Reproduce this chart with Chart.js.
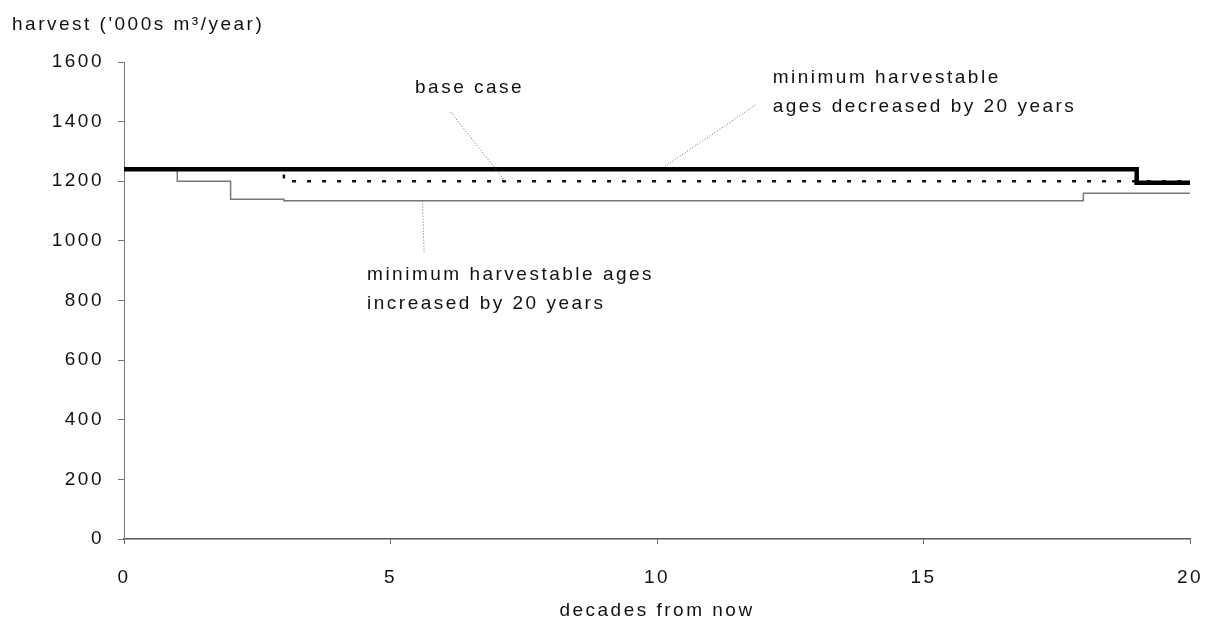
<!DOCTYPE html>
<html>
<head>
<meta charset="utf-8">
<script src="https://cdn.jsdelivr.net/npm/chart.js@4"></script>
<style>
  html, body { margin: 0; padding: 0; background: #fff; }
  #wrap { width: 1210px; height: 633px; }
</style>
</head>
<body>
<div id="wrap"><canvas id="harvestChart" width="1210" height="633"></canvas></div>
<script>
// decades from now; each value holds from that decade to the next one
const decades = [0, 1, 2, 3, 4, 5, 6, 7, 8, 9, 10, 11, 12, 13, 14, 15, 16, 17, 18, 19, 20];
const baseCase = [1240, 1240, 1240, 1240, 1240, 1240, 1240, 1240, 1240, 1240, 1240, 1240, 1240, 1240, 1240, 1240, 1240, 1240, 1240, 1195, 1195];
const agesDecreased = [1240, 1240, 1240, 1200, 1200, 1200, 1200, 1200, 1200, 1200, 1200, 1200, 1200, 1200, 1200, 1200, 1200, 1200, 1200, 1200, 1200];
const agesIncreased = [1240, 1200, 1140, 1135, 1135, 1135, 1135, 1135, 1135, 1135, 1135, 1135, 1135, 1135, 1135, 1135, 1135, 1135, 1160, 1160, 1160];
const xTicks = [0, 5, 10, 15, 20];
const yTicks = [0, 200, 400, 600, 800, 1000, 1200, 1400, 1600];

// callouts: text lines, text anchor (decade, harvest), leader from -> to
const callouts = [
  { lines: ["base case"], at: [5.46, 1513], from: [6.13, 1432], to: [7.15, 1200] },
  { lines: ["minimum harvestable", "ages decreased by 20 years"], at: [12.17, 1548], from: [11.84, 1455], to: [10.15, 1250] },
  { lines: ["minimum harvestable ages", "increased by 20 years"], at: [4.56, 886], from: [5.6, 1135], to: [5.63, 960] }
];

const FONT = "Liberation Sans, Arial, sans-serif";
const SPACING = "2.5px";

function pts(values) {
  return decades.map((d, i) => ({ x: d, y: values[i] }));
}

const spacing = {
  id: "spacing",
  beforeLayout(chart) { chart.ctx.letterSpacing = SPACING; },
  beforeDraw(chart) { chart.ctx.letterSpacing = SPACING; }
};

const annotate = {
  id: "annotate",
  afterDatasetsDraw(chart) {
    const { ctx, scales: { x, y } } = chart;
    ctx.save();
    ctx.letterSpacing = SPACING;
    ctx.fillStyle = "#111";
    ctx.font = "19px " + FONT;
    ctx.textBaseline = "middle";
    ctx.textAlign = "left";
    ctx.fillText("harvest ('000s m\u00b3/year)", 12, 25);

    callouts.forEach(c => {
      ctx.strokeStyle = "#666";
      ctx.lineWidth = 1;
      ctx.setLineDash([1, 2]);
      ctx.beginPath();
      ctx.moveTo(x.getPixelForValue(c.from[0]), y.getPixelForValue(c.from[1]));
      ctx.lineTo(x.getPixelForValue(c.to[0]), y.getPixelForValue(c.to[1]));
      ctx.stroke();
      ctx.setLineDash([]);
      const tx = x.getPixelForValue(c.at[0]);
      const ty = y.getPixelForValue(c.at[1]);
      c.lines.forEach((t, i) => ctx.fillText(t, tx, ty + i * 29));
    });
    ctx.restore();
  }
};

new Chart(document.getElementById("harvestChart"), {
  type: "line",
  data: {
    datasets: [
      {
        label: "base case",
        data: pts(baseCase),
        stepped: "before",
        borderColor: "#000",
        borderWidth: 4.5,
        pointRadius: 0,
        order: 0
      },
      {
        label: "minimum harvestable ages decreased by 20 years",
        data: pts(agesDecreased),
        stepped: "before",
        borderColor: "#111",
        borderWidth: 2.5,
        borderDash: [4, 11],
        pointRadius: 0,
        order: 1
      },
      {
        label: "minimum harvestable ages increased by 20 years",
        data: pts(agesIncreased),
        stepped: "before",
        borderColor: "#777",
        borderWidth: 1.5,
        pointRadius: 0,
        order: 2
      }
    ]
  },
  options: {
    responsive: false,
    animation: false,
    layout: { padding: { top: 62, right: 20, left: 0, bottom: 0 } },
    plugins: {
      legend: { display: false },
      tooltip: { enabled: false }
    },
    scales: {
      x: {
        type: "linear",
        min: 0,
        max: 20,
        afterBuildTicks: s => { s.ticks = xTicks.map(v => ({ value: v })); },
        afterFit: s => { s.height = 94; s.paddingLeft = 0; s.paddingRight = 0; },
        grid: { drawOnChartArea: false, tickLength: 5, color: "#666" },
        border: { color: "#555", width: 1.5 },
        ticks: { color: "#111", font: { size: 19, family: FONT }, padding: 22, maxRotation: 0 },
        title: { display: true, text: "decades from now", color: "#111", font: { size: 19, family: FONT }, padding: { top: 10, bottom: 11 } }
      },
      y: {
        min: 0,
        max: 1600,
        afterBuildTicks: s => { s.ticks = yTicks.map(v => ({ value: v })); },
        afterFit: s => { s.width = 124; },
        grid: { drawOnChartArea: false, tickLength: 6, color: "#777" },
        border: { color: "#777", width: 1, dash: [1, 2] },
        ticks: { color: "#111", font: { size: 19, family: FONT }, padding: 14, callback: v => String(v) }
      }
    }
  },
  plugins: [spacing, annotate]
});
</script>
</body>
</html>
